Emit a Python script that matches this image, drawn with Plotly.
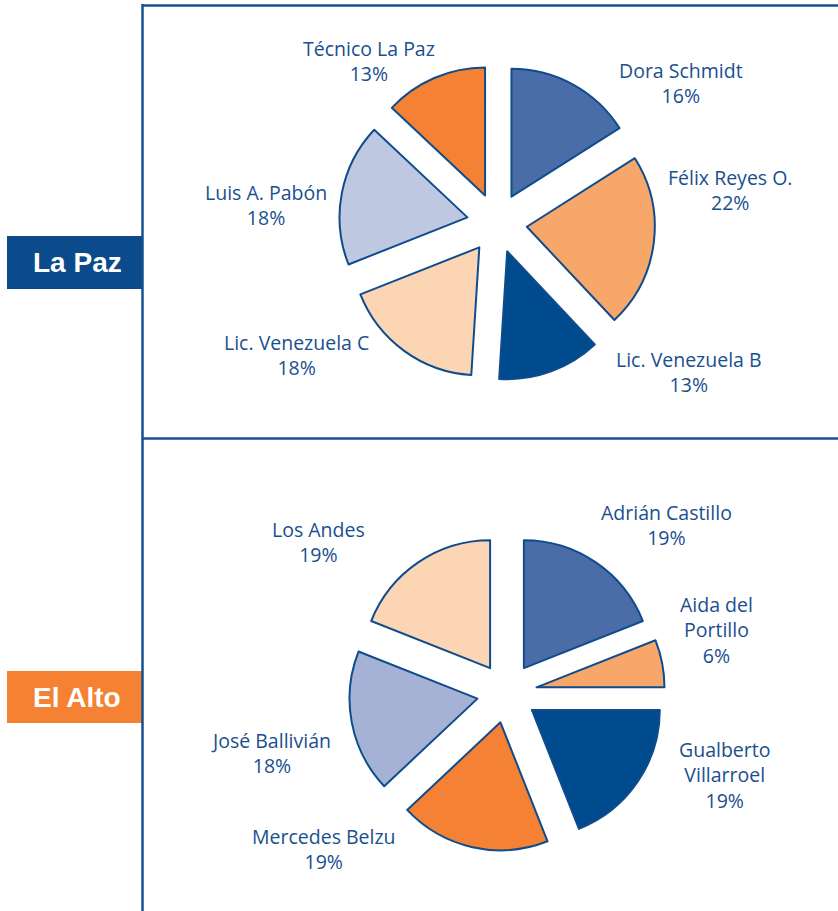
import plotly.graph_objects as go

W, H = 838, 911

# ---- data ----
lapaz_names = ["Dora Schmidt", "Félix Reyes O.", "Lic. Venezuela B", "Lic. Venezuela C", "Luis A. Pabón", "Técnico La Paz"]
lapaz_values = [16, 22, 13, 18, 18, 13]

elalto_names = ["Adrián Castillo", "Aida del|Portillo", "Gualberto|Villarroel", "Mercedes Belzu", "José Ballivián", "Los Andes"]
elalto_values = [19, 6, 19, 19, 18, 19]

group_titles = ["La Paz", "El Alto"]

# ---- styles / positions ----
lapaz_colors = ["#4a6da7", "#f8a76b", "#004b8d", "#fcd5b5", "#bfc8e1", "#f58234"]
elalto_colors = ["#4a6da7", "#f8a76b", "#004b8d", "#f58234", "#a5b2d6", "#fcd5b5"]
title_colors = ["#0b4a8b", "#f58233"]

# first-line centres of each label, in pixels
lapaz_label_pos = [(681, 72), (730, 179), (689, 362), (296, 344), (266, 195), (369, 51)]
elalto_label_pos = [(666, 514), (716, 609), (724, 754), (324, 838), (271, 742), (318, 531)]

TEXT_COLOR = "#1a4f8f"
LINE_COLOR = "#15508f"
FONT = "Open Sans"
REF_LINE_STEP = 21


def px_dom(cx, cy, half):
    return dict(x=[(cx - half) / W, (cx + half) / W], y=[1 - (cy + half) / H, 1 - (cy - half) / H])


fig = go.Figure()

PULL = 0.235
fig.add_trace(go.Pie(
    labels=lapaz_names, values=lapaz_values, sort=False, direction="clockwise", rotation=0,
    pull=[PULL] * len(lapaz_values), textinfo="none", hoverinfo="label+percent",
    marker=dict(colors=lapaz_colors, line=dict(color="#0f4c8d", width=2)),
    domain=px_dom(497, 223, 158), showlegend=False,
))
fig.add_trace(go.Pie(
    labels=[n.replace("|", " ") for n in elalto_names], values=elalto_values, sort=False,
    direction="clockwise", rotation=0,
    pull=[PULL] * len(elalto_values), textinfo="none", hoverinfo="label+percent",
    marker=dict(colors=elalto_colors, line=dict(color="#0f4c8d", width=2)),
    domain=px_dom(507, 693, 158), showlegend=False,
))

annotations = []
for names, values, positions in [(lapaz_names, lapaz_values, lapaz_label_pos),
                                  (elalto_names, elalto_values, elalto_label_pos)]:
    total = sum(values)
    for name, v, (x, y) in zip(names, values, positions):
        lines = name.split("|") + [f"{round(v / total * 100)}%"]
        yc = y + (len(lines) - 1) * REF_LINE_STEP / 2
        annotations.append(dict(
            x=x / W, y=1 - yc / H, xref="paper", yref="paper",
            text="<br>".join(lines), showarrow=False, xanchor="center", yanchor="middle",
            align="center", font=dict(family=FONT, size=19.5, color=TEXT_COLOR),
        ))

shapes = []
# frame lines
shapes.append(dict(type="line", xref="paper", yref="paper", x0=142.5 / W, x1=142.5 / W, y0=0, y1=1 - 4 / H,
                   line=dict(color=LINE_COLOR, width=2.5)))
shapes.append(dict(type="line", xref="paper", yref="paper", x0=142.5 / W, x1=1, y0=1 - 5.5 / H, y1=1 - 5.5 / H,
                   line=dict(color=LINE_COLOR, width=2.5)))
shapes.append(dict(type="line", xref="paper", yref="paper", x0=142.5 / W, x1=1, y0=1 - 438.5 / H, y1=1 - 438.5 / H,
                   line=dict(color=LINE_COLOR, width=2.5)))

# group title boxes
for title, color, (top, bottom) in zip(group_titles, title_colors, [(236, 289), (671, 723)]):
    shapes.append(dict(type="rect", xref="paper", yref="paper", x0=7 / W, x1=142 / W,
                       y0=1 - bottom / H, y1=1 - top / H, fillcolor=color, line=dict(width=0), layer="below"))
    annotations.append(dict(x=77 / W, y=1 - (top + bottom) / 2 / H, xref="paper", yref="paper",
                            text=f"<b>{title}</b>", showarrow=False, xanchor="center", yanchor="middle",
                            font=dict(family="Liberation Sans", size=28, color="white")))

fig.update_layout(
    width=W, height=H, margin=dict(l=0, r=0, t=0, b=0),
    paper_bgcolor="white", plot_bgcolor="white",
    annotations=annotations, shapes=shapes,
)

fig.write_html("out.html")
